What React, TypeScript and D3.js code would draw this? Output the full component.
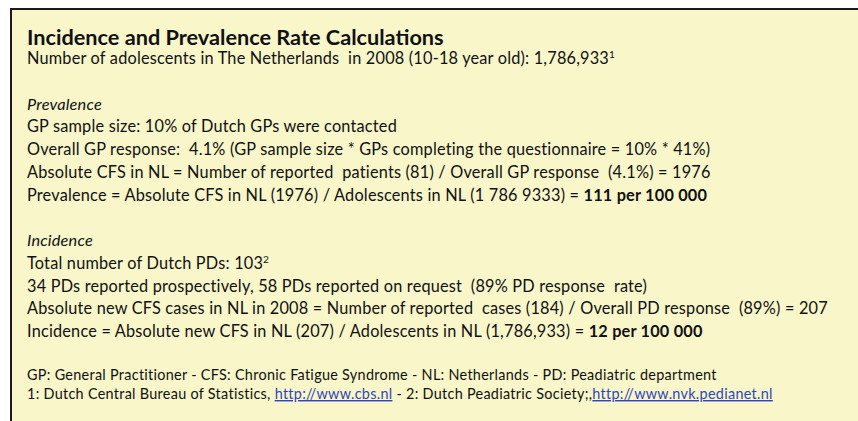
import React from "react";
import * as d3 from "d3";

type Seg = { t: string; b?: boolean; i?: boolean; sup?: boolean; link?: boolean };

const title = "Incidence and Prevalence Rate Calculations";

// body lines, null = blank line
const bodyLines: (Seg[] | null)[] = [
  [{ t: "Number of adolescents in The Netherlands  in 2008 (10-18 year old): 1,786,933" }, { t: "1", sup: true }],
  null,
  [{ t: "Prevalence", i: true }],
  [{ t: "GP sample size: 10% of Dutch GPs were contacted" }],
  [{ t: "Overall GP response:  4.1% (GP sample size * GPs completing the questionnaire = 10% * 41%)" }],
  [{ t: "Absolute CFS in NL = Number of reported  patients (81) / Overall GP response  (4.1%) = 1976" }],
  [{ t: "Prevalence = Absolute CFS in NL (1976) / Adolescents in NL (1 786 9333) = " }, { t: "111 per 100 000", b: true }],
  null,
  [{ t: "Incidence", i: true }],
  [{ t: "Total number of Dutch PDs: 103" }, { t: "2", sup: true }],
  [{ t: "34 PDs reported prospectively, 58 PDs reported on request  (89% PD response  rate)" }],
  [{ t: "Absolute new CFS cases in NL in 2008 = Number of reported  cases (184) / Overall PD response  (89%) = 207" }],
  [{ t: "Incidence = Absolute new CFS in NL (207) / Adolescents in NL (1,786,933) = " }, { t: "12 per 100 000", b: true }],
];

const footLines: Seg[][] = [
  [{ t: "GP: General Practitioner - CFS: Chronic Fatigue Syndrome - NL: Netherlands - PD: Peadiatric department" }],
  [
    { t: "1: Dutch Central Bureau of Statistics, " },
    { t: "http://www.cbs.nl", link: true },
    { t: " - 2: Dutch Peadiatric Society;," },
    { t: "http://www.nvk.pedianet.nl", link: true },
  ],
];

const W = 858;
const H = 421;
const FONT = "Lato, 'Open Sans', sans-serif";

function Line({ segs, x, y, size, ls }: { segs: Seg[]; x: number; y: number; size: number; ls: number }) {
  return (
    <text x={x} y={y} fontSize={size} fill="#111" fontFamily={FONT} letterSpacing={ls} style={{ whiteSpace: "pre" }}>
      {segs.map((s, k) => (
        <tspan
          key={k}
          fontWeight={s.b ? "bold" : "normal"}
          fontStyle={s.i ? "italic" : "normal"}
          fontSize={s.sup ? size * 0.62 : undefined}
          dy={s.sup ? -size * 0.38 : k > 0 && segs[k - 1].sup ? size * 0.38 : undefined}
          fill={s.link ? "#2f45c0" : undefined}
          textDecoration={s.link ? "underline" : undefined}
        >
          {s.t}
        </tspan>
      ))}
    </text>
  );
}

export default function App() {
  // row index -> baseline
  const rowY = d3.scaleLinear().domain([0, 1]).range([64, 86.75]);
  const footY = d3.scaleLinear().domain([0, 1]).range([380, 399]);
  const left = 27;

  return (
    <svg width={W} height={H} style={{ position: "absolute", left: 0, top: 0 }}>
      <rect x={11} y={9} width={W + 10} height={H + 10} fill="#f9f6ca" stroke="#1a1a1a" strokeWidth={2} />
      <text x={left} y={45} fontSize={21.7} fontWeight="bold" fill="#111" fontFamily={FONT}>
        {title}
      </text>
      {bodyLines.map((segs, i) =>
        segs ? <Line key={i} segs={segs} x={left} y={rowY(i)} size={16.3} ls={0.2} /> : null
      )}
      {footLines.map((segs, i) => (
        <Line key={"f" + i} segs={segs} x={left} y={footY(i)} size={14.4} ls={0.3} />
      ))}
    </svg>
  );
}
